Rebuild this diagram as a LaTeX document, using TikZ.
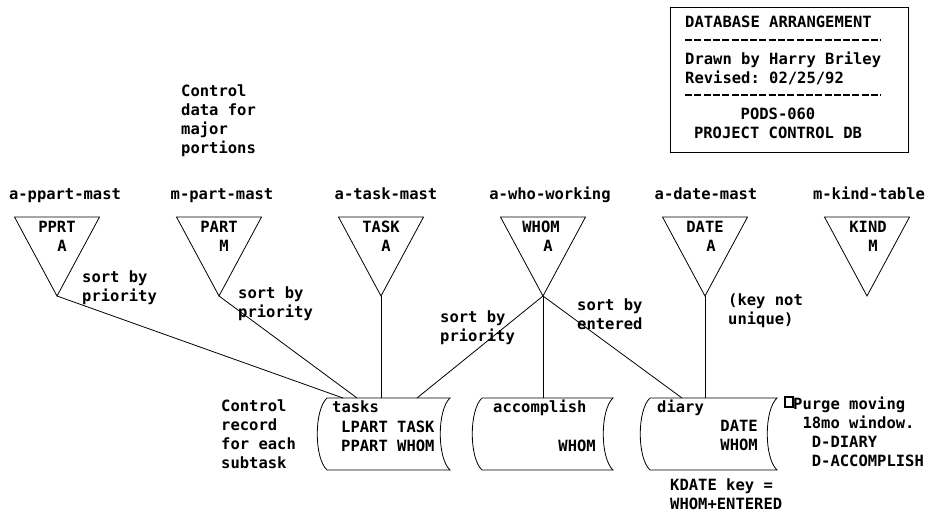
\documentclass[tikz,border=0pt]{standalone}
\usepackage{fontspec}
\setmonofont{DejaVu Sans Mono}
\usetikzlibrary{positioning}

\tikzset{
  lbl/.style={font=\ttfamily\bfseries\fontsize{15.5}{18.7}\selectfont, inner sep=0pt, align=left},
  link/.style={line width=0.8pt},
  rule/.style={line width=1.2pt, dash pattern=on 7pt off 2.3pt},
}

\begin{document}
\begin{tikzpicture}[x=1pt,y=-1pt]
    \useasboundingbox (0,0) rectangle (932,512);

    % title block
    \draw[line width=1pt] (670,7) rectangle (908,152);
    \node[lbl,anchor=base west] (title) at (685,27) {DATABASE ARRANGEMENT};
    \draw[rule] (685,40) -- (881,40);
    \node[lbl,anchor=base west] (drawn) at (685,83) {Drawn by Harry Briley\\Revised: 02/25/92};
    \draw[rule] (685,95) -- (881,95);
    \node[lbl,anchor=base,align=center] (pods) at (778,138) {PODS-060\\PROJECT CONTROL DB};

    \node[lbl,anchor=base west] (major) at (181,153) {Control\\data for\\major\\portions};

    % tables
    \coordinate (pprt) at (57,296);
    \draw[link] (pprt) -- ++(-42.5,-79) -- ++(85,0) -- cycle;
    \node[lbl,anchor=base] (pprt-name) at (65,199) {a-ppart-mast};
    \node[lbl,anchor=base] (pprt-key) at (57,232) {PPRT};
    \node[lbl,anchor=base] (pprt-org) at (62,251) {A};

    \coordinate (part) at (219,296);
    \draw[link] (part) -- ++(-42.5,-79) -- ++(85,0) -- cycle;
    \node[lbl,anchor=base] (part-name) at (222,199) {m-part-mast};
    \node[lbl,anchor=base] (part-key) at (219,232) {PART};
    \node[lbl,anchor=base] (part-org) at (224,251) {M};

    \coordinate (task) at (381,296);
    \draw[link] (task) -- ++(-42.5,-79) -- ++(85,0) -- cycle;
    \node[lbl,anchor=base] (task-name) at (386,199) {a-task-mast};
    \node[lbl,anchor=base] (task-key) at (381,232) {TASK};
    \node[lbl,anchor=base] (task-org) at (386,251) {A};

    \coordinate (whom) at (543,296);
    \draw[link] (whom) -- ++(-42.5,-79) -- ++(85,0) -- cycle;
    \node[lbl,anchor=base] (whom-name) at (550,199) {a-who-working};
    \node[lbl,anchor=base] (whom-key) at (541,232) {WHOM};
    \node[lbl,anchor=base] (whom-org) at (548,251) {A};

    \coordinate (date) at (705,296);
    \draw[link] (date) -- ++(-42.5,-79) -- ++(85,0) -- cycle;
    \node[lbl,anchor=base] (date-name) at (706,199) {a-date-mast};
    \node[lbl,anchor=base] (date-key) at (705,232) {DATE};
    \node[lbl,anchor=base] (date-org) at (711,251) {A};

    \coordinate (kind) at (867,296);
    \draw[link] (kind) -- ++(-42.5,-79) -- ++(85,0) -- cycle;
    \node[lbl,anchor=base] (kind-name) at (869,199) {m-kind-table};
    \node[lbl,anchor=base] (kind-key) at (868,232) {KIND};
    \node[lbl,anchor=base] (kind-org) at (873,251) {M};

    % record types
    \draw[link] (327,398) -- (450,398) .. controls (437,410) and (437,458) .. (450,470)
      -- (327,470) .. controls (314,458) and (314,410) .. (327,398);
    \node[lbl,anchor=base west] (tasks) at (332,412) {tasks};
    \node[lbl,anchor=base west] (tasks-keys) at (341,451) {LPART TASK\\PPART WHOM};

    \draw[link] (482,398) -- (613,398) .. controls (600,410) and (600,458) .. (613,470)
      -- (482,470) .. controls (469,458) and (469,410) .. (482,398);
    \node[lbl,anchor=base west] (accomplish) at (493,412) {accomplish};
    \node[lbl,anchor=base east] (accomplish-keys) at (596,451) {WHOM};

    \draw[link] (650,398) -- (777,398) .. controls (764,410) and (764,458) .. (777,470)
      -- (650,470) .. controls (637,458) and (637,410) .. (650,398);
    \node[lbl,anchor=base west] (diary) at (657,412) {diary};
    \node[lbl,anchor=base east,align=right] (diary-keys) at (758,450) {DATE\\WHOM};

    \coordinate (tasks-a) at (343,398);
    \coordinate (tasks-b) at (357,398);
    \coordinate (tasks-c) at (381,398);
    \coordinate (tasks-d) at (417,398);
    \coordinate (accomplish-a) at (543,398);
    \coordinate (diary-a) at (682,398);
    \coordinate (diary-b) at (705,398);

    \draw[link] (pprt) -- (tasks-a);
    \draw[link] (part) -- (tasks-b);
    \draw[link] (task) -- (tasks-c);
    \draw[link] (whom) -- (tasks-d);
    \draw[link] (whom) -- (accomplish-a);
    \draw[link] (whom) -- (diary-a);
    \draw[link] (date) -- (diary-b);

    % notes
    \node[lbl,anchor=base west] (sort-pprt) at (82,301) {sort by\\priority};
    \node[lbl,anchor=base west] (sort-part) at (238,317) {sort by\\priority};
    \node[lbl,anchor=base west] (sort-whom) at (440,341) {sort by\\priority};
    \node[lbl,anchor=base west] (sort-entered) at (577,329) {sort by\\entered};
    \node[lbl,anchor=base west] (key-note) at (728,324) {(key not\\unique)};
    \node[lbl,anchor=base west] (subtask) at (221,468) {Control\\record\\for each\\subtask};
    \node[draw,line width=1.6pt,inner sep=0pt,minimum width=8pt,minimum height=10pt] (purge-box) at (789,402) {};
    \node[lbl,anchor=base west] (purge) at (793,466) {Purge moving\\\hphantom{P}18mo window.\\\hphantom{Pu}D-DIARY\\\hphantom{Pu}D-ACCOMPLISH};
    \node[lbl,anchor=base west] (kdate) at (670,509) {KDATE key =\\WHOM+ENTERED};
\end{tikzpicture}
\end{document}
